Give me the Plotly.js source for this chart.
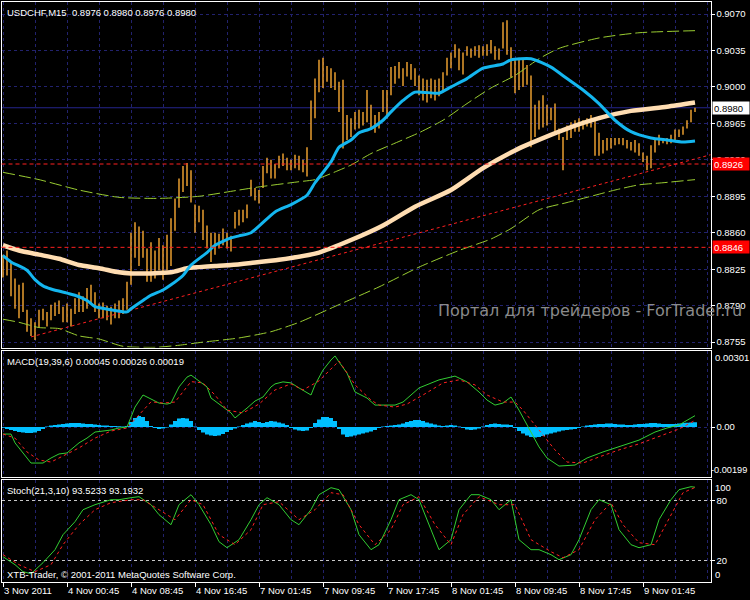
<!DOCTYPE html>
<html><head><meta charset="utf-8">
<script src="https://cdn.plot.ly/plotly-3.0.1.min.js"></script>
<style>html,body{margin:0;padding:0;background:#000;}#chart{width:750px;height:600px;}</style>
</head><body><div id="chart"></div>
<script>
// ---------- DATA ----------
const lastBar = [0.8976, 0.8980, 0.8976, 0.8980]; // O H L C
const barHigh = [
0.8839,0.8843,0.8832,0.8816,0.8810,0.8812,0.8786,0.8778,0.8774,0.8786,
0.8787,0.8784,0.8791,0.8793,0.8795,0.8789,0.8792,0.8787,0.8797,0.8803,
0.8799,0.8807,0.8810,0.8803,0.8792,0.8793,0.8790,0.8789,0.8792,0.8795,
0.8797,0.8813,0.8860,0.8870,0.8866,0.8862,0.8845,0.8851,0.8843,0.8855,
0.8848,0.8858,0.8874,0.8893,0.8912,0.8924,0.8927,0.8920,0.8887,0.8886,
0.8882,0.8867,0.8860,0.8860,0.8859,0.8864,0.8860,0.8857,0.8880,0.8882,
0.8882,0.8887,0.8911,0.8903,0.8901,0.8924,0.8932,0.8930,0.8926,0.8934,
0.8936,0.8932,0.8930,0.8935,0.8934,0.8930,0.8942,0.8987,0.9008,0.9026,
0.9028,0.9020,0.9018,0.9014,0.9005,0.9007,0.8973,0.8970,0.8976,0.8978,
0.8976,0.8997,0.8983,0.8973,0.8976,0.8997,0.8997,0.9019,0.9020,0.9024,
0.9018,0.9024,0.9022,0.9018,0.9011,0.9008,0.9007,0.9008,0.9007,0.9008,
0.9014,0.9028,0.9033,0.9041,0.9037,0.9033,0.9039,0.9037,0.9039,0.9040,
0.9039,0.9041,0.9045,0.9039,0.9037,0.9062,0.9064,0.9038,0.9026,0.9028,
0.9026,0.9021,0.9011,0.8983,0.8987,0.8992,0.8983,0.8980,0.8984,0.8960,
0.8952,0.8963,0.8966,0.8968,0.8970,0.8968,0.8970,0.8973,0.8970,0.8956,
0.8949,0.8951,0.8951,0.8951,0.8951,0.8951,0.8949,0.8947,0.8949,0.8946,
0.8937,0.8934,0.8944,0.8951,0.8954,0.8951,0.8951,0.8954,0.8959,0.8959,
0.8962,0.8968,0.8978,0.8980];
const barLow = [
0.8817,0.8819,0.8799,0.8787,0.8778,0.8784,0.8765,0.8761,0.8757,0.8769,
0.8776,0.8770,0.8776,0.8780,0.8782,0.8774,0.8774,0.8770,0.8782,0.8784,
0.8784,0.8787,0.8792,0.8784,0.8778,0.8778,0.8776,0.8772,0.8778,0.8778,
0.8782,0.8786,0.8810,0.8836,0.8828,0.8836,0.8813,0.8813,0.8816,0.8824,
0.8815,0.8824,0.8828,0.8862,0.8884,0.8899,0.8905,0.8889,0.8860,0.8870,
0.8853,0.8845,0.8832,0.8839,0.8845,0.8848,0.8845,0.8842,0.8864,0.8867,
0.8870,0.8874,0.8895,0.8891,0.8888,0.8903,0.8917,0.8912,0.8912,0.8922,
0.8924,0.8920,0.8920,0.8922,0.8920,0.8918,0.8914,0.8949,0.8970,0.8995,
0.8999,0.9005,0.8999,0.8997,0.8976,0.8941,0.8949,0.8952,0.8959,0.8960,
0.8963,0.8966,0.8960,0.8956,0.8960,0.8976,0.8970,0.8992,0.9003,0.9008,
0.9001,0.9010,0.9007,0.9001,0.8992,0.8987,0.8985,0.8989,0.8987,0.8991,
0.8995,0.9011,0.9018,0.9028,0.9016,0.9012,0.9030,0.9028,0.9030,0.9028,
0.9030,0.9030,0.9032,0.9026,0.9026,0.9037,0.9031,0.9009,0.8994,0.8997,
0.9000,0.9002,0.8942,0.8952,0.8959,0.8961,0.8963,0.8968,0.8957,0.8949,
0.8920,0.8949,0.8951,0.8957,0.8957,0.8959,0.8962,0.8961,0.8934,0.8934,
0.8936,0.8939,0.8941,0.8944,0.8945,0.8944,0.8941,0.8939,0.8937,0.8934,
0.8928,0.8920,0.8922,0.8937,0.8944,0.8946,0.8945,0.8946,0.8949,0.8952,
0.8954,0.8960,0.8966,0.8976];

const fastX = [0,2,6,8,10,12,16,18,21,23,27,31,32,35,37,40,42,45,47,51,53,57,59,62,68,72,76,78,82,84,87,89,92,95,97,100,103,109,112,116,120,125,127,132,137,141,145,149,153,157,162,166,170,173];
const fastY = [0.8838,0.8832,0.8824,0.8815,0.8809,0.8806,0.8802,0.8800,0.8795,0.8789,0.8786,0.8784,0.8787,0.8795,0.8800,0.8805,0.8810,0.8819,0.8829,0.8841,0.8848,0.8855,0.8857,0.8860,0.8880,0.8887,0.8896,0.8908,0.8928,0.8942,0.8949,0.8956,0.8960,0.8968,0.8976,0.8987,0.8995,0.8994,0.9000,0.9008,0.9018,0.9022,0.9026,0.9027,0.9019,0.9008,0.8997,0.8984,0.8968,0.8957,0.8951,0.8949,0.8947,0.8948];

const slowX = [0,4,9,14,19,24,29,32,37,42,46,49,53,57,62,69,79,87,95,103,112,120,128,132,141,149,157,166,173];
const slowY = [0.8848,0.8843,0.8839,0.8835,0.8829,0.8826,0.8822,0.8821,0.8821,0.8822,0.8826,0.8827,0.8828,0.8829,0.8831,0.8834,0.8841,0.8853,0.8867,0.8885,0.8901,0.8922,0.8939,0.8946,0.8960,0.8970,0.8977,0.8981,0.8985];

const upX = [0,9,19,29,39,49,59,64,74,78,84,87,92,98,104,110,116,122,128,134,139,149,159,173];
const upY = [0.8918,0.8911,0.8901,0.8894,0.8893,0.8895,0.8901,0.8904,0.8909,0.8911,0.8920,0.8925,0.8936,0.8946,0.8956,0.8968,0.8984,0.8999,0.9011,0.9027,0.9037,0.9047,0.9052,0.9054];

const loX = [0,4,9,14,19,24,30,38,44,50,59,67,74,84,94,104,114,122,127,134,141,148,153,159,165,173];
const loY = [0.8777,0.8774,0.8769,0.8768,0.8761,0.8758,0.8751,0.8750,0.8752,0.8755,0.8759,0.8765,0.8774,0.8791,0.8808,0.8827,0.8843,0.8854,0.8864,0.8882,0.8889,0.8896,0.8901,0.8906,0.8908,0.8911];

const trendX = [7, 177];
const trendY = [0.8760, 0.8935];
const levelPrices = [0.8926, 0.8846];
const bidPrice = 0.8980;
const priceTicks = [0.8755,0.8790,0.8825,0.8860,0.8895,0.8930,0.8965,0.9000,0.9035,0.9070];

const macdX = [0,2,3,5,7,10,12,14,16,19,21,23,27,29,31,33,35,37,39,41,42,44,46,47,49,51,52,55,57,58,59,61,63,65,67,68,70,72,74,77,78,80,82,83,84,86,88,91,93,98,100,104,109,113,116,119,121,123,125,127,129,131,134,136,139,143,146,150,154,159,163,166,169,171,173];
const macdY = [-0.00028,-0.00028,-0.00063,-0.00103,-0.00143,-0.00143,-0.00123,-0.00107,-0.00103,-0.00063,-0.00044,-0.00020,-0.00012,-0.00004,0.00000,0.00079,0.00127,0.00111,0.00095,0.00091,0.00095,0.00159,0.00198,0.00206,0.00183,0.00159,0.00115,0.00079,0.00056,0.00036,0.00048,0.00075,0.00103,0.00119,0.00159,0.00171,0.00179,0.00175,0.00155,0.00127,0.00167,0.00226,0.00266,0.00282,0.00258,0.00214,0.00139,0.00115,0.00087,0.00087,0.00099,0.00155,0.00187,0.00202,0.00179,0.00139,0.00107,0.00087,0.00095,0.00119,0.00067,0.00008,-0.00079,-0.00123,-0.00155,-0.00151,-0.00123,-0.00099,-0.00079,-0.00052,-0.00020,-0.00004,0.00008,0.00028,0.00045];
const sigX = [0,3,6,9,12,15,19,23,27,31,34,37,40,43,47,50,53,56,60,64,68,72,75,79,84,88,92,94,98,101,105,110,114,118,121,125,128,130,134,138,141,145,149,154,159,164,169,173];
const sigY = [-0.00028,-0.00044,-0.00099,-0.00131,-0.00139,-0.00115,-0.00083,-0.00044,-0.00016,-0.00004,0.00050,0.00100,0.00095,0.00099,0.00180,0.00175,0.00127,0.00067,0.00056,0.00091,0.00147,0.00171,0.00147,0.00183,0.00262,0.00167,0.00107,0.00087,0.00079,0.00091,0.00127,0.00175,0.00187,0.00167,0.00127,0.00099,0.00099,0.00067,-0.00012,-0.00091,-0.00139,-0.00143,-0.00119,-0.00091,-0.00067,-0.00036,-0.00008,0.00026];
const histY = [
-0.00003,-0.00008,-0.00012,-0.00016,-0.00020,-0.00022,-0.00024,-0.00024,-0.00022,-0.00016,
-0.00008,0.00002,0.00006,0.00008,0.00010,0.00012,0.00014,0.00016,0.00016,0.00016,
0.00014,0.00012,0.00012,0.00010,0.00008,0.00006,0.00006,0.00004,0.00004,0.00003,
0.00002,0.00004,0.00020,0.00036,0.00044,0.00040,0.00024,0.00004,-0.00004,-0.00008,
-0.00006,-0.00002,0.00010,0.00024,0.00034,0.00036,0.00034,0.00024,0.00002,-0.00012,
-0.00022,-0.00030,-0.00034,-0.00036,-0.00034,-0.00028,-0.00020,-0.00012,-0.00006,0.00002,
0.00008,0.00014,0.00018,0.00024,0.00020,0.00016,0.00020,0.00024,0.00022,0.00018,
0.00014,0.00008,-0.00004,-0.00010,-0.00014,-0.00016,-0.00014,-0.00004,0.00016,0.00030,
0.00040,0.00040,0.00036,0.00024,-0.00008,-0.00030,-0.00040,-0.00038,-0.00034,-0.00030,
-0.00026,-0.00022,-0.00018,-0.00012,-0.00004,0.00002,0.00004,0.00006,0.00008,0.00010,
0.00014,0.00020,0.00024,0.00028,0.00028,0.00024,0.00018,0.00014,0.00010,0.00006,
0.00004,0.00006,0.00008,0.00006,0.00002,-0.00004,-0.00010,-0.00012,-0.00010,-0.00006,
0.00002,0.00008,0.00012,0.00014,0.00012,0.00010,0.00010,0.00008,-0.00004,-0.00016,
-0.00026,-0.00034,-0.00040,-0.00042,-0.00040,-0.00036,-0.00030,-0.00026,-0.00022,-0.00018,
-0.00014,-0.00012,-0.00010,-0.00008,-0.00004,0.00002,0.00006,0.00008,0.00010,0.00012,
0.00012,0.00014,0.00014,0.00012,0.00010,0.00010,0.00008,0.00008,0.00010,0.00012,
0.00012,0.00014,0.00016,0.00016,0.00014,0.00012,0.00012,0.00012,0.00012,0.00014,
0.00016,0.00017,0.00018,0.00019];
const macdParams = '19,39,6';
const macdLast = ['0.00045','0.00026','0.00019'];

const stX = [0,3,5,7,10,13,15,18,20,23,27,29,32,34,37,39,42,44,47,49,52,54,56,59,62,64,66,69,72,74,77,79,82,84,87,89,92,94,97,99,102,104,107,109,112,114,117,119,122,124,127,129,132,134,137,139,142,144,147,149,152,154,157,159,162,164,167,169,172,173];
const stY = [24,16,9,7,18,31,46,59,71,76,81,81,83,84,76,66,56,76,86,76,56,39,33,41,61,76,83,76,61,56,71,86,93,91,71,46,31,36,61,81,86,81,51,31,41,71,86,86,81,71,81,41,31,31,26,21,26,41,71,81,76,51,36,33,36,61,81,91,94,93.5];
const ssX = [0,4,8,12,15,19,23,27,32,35,39,43,47,50,54,58,62,65,69,74,78,82,85,89,93,97,100,104,108,112,115,119,124,128,132,137,140,144,148,152,155,159,163,167,170,173];
const ssY = [26,16,9,16,36,56,71,78,81,81,71,61,81,76,46,36,51,76,79,61,71,88,86,56,36,51,76,84,56,36,66,84,76,76,41,29,23,31,61,78,56,38,36,66,88,93.2];
const stochLevels = [20, 80];
const stochLast = ['93.5233','93.1932'];

const xTickIdx = [0,16,32,48,64,80,96,112,128,144,160];
const xTickText = ['3 Nov 2011','4 Nov 00:45','4 Nov 08:45','4 Nov 16:45','7 Nov 01:45','7 Nov 09:45','7 Nov 17:45','8 Nov 01:45','8 Nov 09:45','8 Nov 17:45','9 Nov 01:45'];

// ---------- BUILD ----------
const W = 750, H = 600;
const FONT = 'Liberation Sans, Arial, sans-serif';
const GRID = '#22226e';
const idx = barHigh.map((_, i) => i);
const px = v => v / W, py = v => 1 - v / H;
const xDom = [px(1.5), px(710.5)];
const xRange = [-0.375, 176.875];

const baseX = {
  domain: xDom, range: xRange, autorange: false, showline: true, mirror: true,
  linecolor: '#ffffff', linewidth: 1, zeroline: false,
  tickmode: 'linear', tick0: 0, dtick: 8, showgrid: true, gridcolor: GRID,
  griddash: '3px,3px', gridwidth: 1, showticklabels: false, ticks: ''
};

const data = [
  {type:'bar', x: idx, base: barLow, y: barHigh.map((h, i) => h - barLow[i]), width: 0.36,
   marker:{color:'#F2A431', line:{width:0}}, xaxis:'x', yaxis:'y', hoverinfo:'skip'},
  {type:'scatter', mode:'lines', x: trendX, y: trendY, line:{color:'#ff2020', width:1, dash:'3px,3px'}, xaxis:'x', yaxis:'y'},
  {type:'scatter', mode:'lines', x: upX, y: upY, line:{color:'#9ACD32', width:1, dash:'12px,4px', shape:'spline', smoothing:0.6}, xaxis:'x', yaxis:'y'},
  {type:'scatter', mode:'lines', x: loX, y: loY, line:{color:'#9ACD32', width:1, dash:'12px,4px', shape:'spline', smoothing:0.6}, xaxis:'x', yaxis:'y'},
  {type:'scatter', mode:'lines', x: slowX, y: slowY, line:{color:'#FFDDB2', width:4.5, shape:'spline', smoothing:0.6}, xaxis:'x', yaxis:'y'},
  {type:'scatter', mode:'lines', x: fastX, y: fastY, line:{color:'#14B6EF', width:3, shape:'spline', smoothing:0.6}, xaxis:'x', yaxis:'y'},
  // MACD
  {type:'bar', x: idx, y: histY, width: 1, marker:{color:'#00BFFF', line:{width:0}}, xaxis:'x2', yaxis:'y2'},
  {type:'scatter', mode:'lines', x: macdX, y: macdY, line:{color:'#32CD32', width:1}, xaxis:'x2', yaxis:'y2'},
  {type:'scatter', mode:'lines', x: sigX, y: sigY, line:{color:'#ff2020', width:1, dash:'3px,3px'}, xaxis:'x2', yaxis:'y2'},
  // Stochastic
  {type:'scatter', mode:'lines', x: stX, y: stY, line:{color:'#32CD32', width:1}, xaxis:'x3', yaxis:'y3'},
  {type:'scatter', mode:'lines', x: ssX, y: ssY, line:{color:'#ff2020', width:1, dash:'3px,3px'}, xaxis:'x3', yaxis:'y3'}
];

const shapes = [];
levelPrices.forEach(p => shapes.push({type:'line', xref:'x domain', yref:'y', x0:0, x1:1, y0:p, y1:p,
  line:{color:'#ff2020', width:1, dash:'4px,3px'}, layer:'above'}));
shapes.push({type:'line', xref:'x domain', yref:'y', x0:0, x1:1, y0:bidPrice, y1:bidPrice,
  line:{color:'#24248c', width:1}, layer:'below'});

const txt = (t, x, y, extra) => Object.assign({text:t, xref:'paper', yref:'paper', x:x, y:y,
  xanchor:'left', yanchor:'middle', showarrow:false, font:{family:FONT, size:9.5, color:'#ffffff'}}, extra || {});

const annotations = [
  txt('USDCHF,M15\u00a0\u00a0' + lastBar.map(v => v.toFixed(4)).join(' '), px(5), py(12)),
  txt('MACD(' + macdParams + ') ' + macdLast.join(' '), px(5), py(361)),
  txt('Stoch(21,3,10) ' + stochLast.join(' '), px(5), py(490)),
  txt('XTB-Trader, \u00a9 2001-2011 MetaQuotes Software Corp.', px(5), py(574)),
  txt('Портал для трейдеров - ForTrader.ru', px(744), py(310), {xanchor:'right',
    font:{family:'DejaVu Sans, sans-serif', size:16, color:'#8a8a8a'}}),
  txt(bidPrice.toFixed(4), px(712), bidPrice, {yref:'y', bgcolor:'#ffffff', width:34, height:10, align:'left',
    font:{family:FONT, size:9.5, color:'#000000'}}),
  ...levelPrices.map(p => txt(p.toFixed(4), px(712), p, {yref:'y', bgcolor:'#ff0000', width:34, height:10, align:'left'})),
  txt('0.00301', px(713), 1, {yref:'y2 domain', yanchor:'top'}),
  txt('-0.00199', px(709), 0, {yref:'y2 domain', yanchor:'bottom', font:{family:FONT, size:9.2, color:'#ffffff'}}),
  txt('100', px(713), 1, {yref:'y3 domain', yanchor:'top'}),
  txt('0', px(713), 0, {yref:'y3 domain', yanchor:'bottom'})
];

const yCommon = {side:'right', showline:true, mirror:true, linecolor:'#ffffff', linewidth:1, zeroline:false,
  ticks:'outside', ticklen:3, tickcolor:'#ffffff', tickfont:{family:FONT, size:9.5, color:'#ffffff'},
  autorange:false, tickmode:'array', showgrid:true, griddash:'3px,3px', gridwidth:1};

const layout = {
  width: W, height: H, margin:{l:0, r:0, t:0, b:0, pad:0},
  paper_bgcolor:'#000000', plot_bgcolor:'#000000', showlegend:false, hovermode:false,
  font:{family:FONT, size:9.5, color:'#ffffff'},
  xaxis: Object.assign({}, baseX, {anchor:'y'}),
  xaxis2: Object.assign({}, baseX, {anchor:'y2'}),
  xaxis3: Object.assign({}, baseX, {anchor:'y3', tickmode:'array', tickvals: xTickIdx, ticktext: xTickText,
    showticklabels:true, ticks:'outside', ticklen:4, tickcolor:'#ffffff', ticklabelposition:'outside right',
    tickfont:{family:FONT, size:9.5, color:'#ffffff'},
    minor:{tickmode:'linear', tick0:0, dtick:8, showgrid:true, gridcolor:GRID, griddash:'3px,3px', ticks:''}}),
  yaxis: Object.assign({}, yCommon, {domain:[py(347.5), py(1.5)], anchor:'x', range:[0.874984, 0.908200],
    tickvals: priceTicks, ticktext: priceTicks.map(v => v.toFixed(4)), gridcolor: GRID}),
  yaxis2: Object.assign({}, yCommon, {domain:[py(477), py(350.5)], anchor:'x2', range:[-0.0019841, 0.0030357],
    tickvals:[0], ticktext:['0.00'], gridcolor: GRID}),
  yaxis3: Object.assign({}, yCommon, {domain:[py(582), py(479.5)], anchor:'x3', range:[-1.3, 101.2],
    tickvals: stochLevels, ticktext: stochLevels.map(String), gridcolor:'#c8c8c8'}),
  shapes: shapes,
  annotations: annotations
};

Plotly.newPlot('chart', data, layout, {staticPlot:true, displayModeBar:false});
</script>
</body></html>
